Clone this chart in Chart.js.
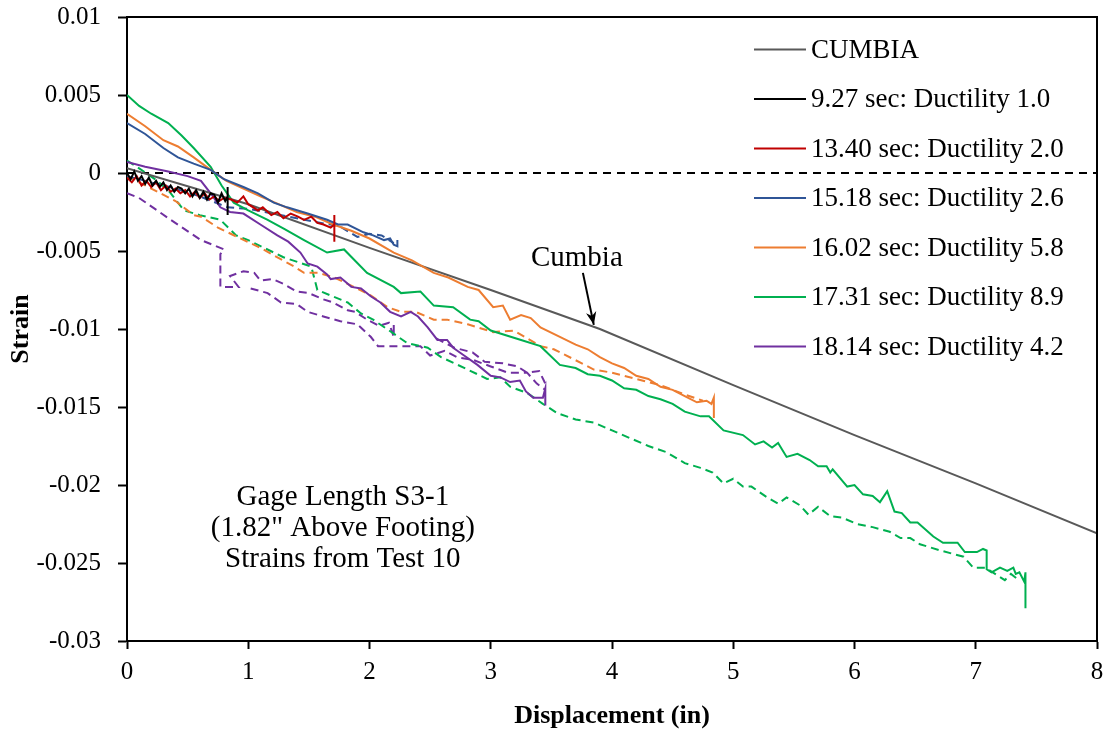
<!DOCTYPE html>
<html>
<head>
<meta charset="utf-8">
<title>Strain vs Displacement - Gage Length S3-1</title>
<script src="https://cdn.jsdelivr.net/npm/chart.js@4.4.1/dist/chart.umd.min.js"></script>
<style>
    html, body { margin: 0; padding: 0; background: #fff; }
    #wrap { width: 1107px; height: 732px; }
</style>
</head>
<body>
<div id="wrap"><canvas id="strainChart" width="1107" height="732"></canvas></div>
<script>
// ---- axis ticks ----
const xTickValues = [0, 1, 2, 3, 4, 5, 6, 7, 8];
const yTickValues = [0.01, 0.005, 0, -0.005, -0.01, -0.015, -0.02, -0.025, -0.03];
const yTickLabels = ['0.01', '0.005', '0', '-0.005', '-0.01', '-0.015', '-0.02', '-0.025', '-0.03'];

// ---- CUMBIA prediction ----
const cumbiaX = [0, 1, 2, 3, 3.9, 5, 6, 7, 8];
const cumbiaY = [0.0003, -0.002, -0.0048, -0.0075, -0.0100, -0.0136, -0.0168, -0.0199, -0.0231];

// ---- zero reference ----
const zeroX = [0, 8];
const zeroY = [0, 0];

// ---- 9.27 sec: Ductility 1.0 ----
const d927X = [0, 0.03, 0.06, 0.09, 0.12, 0.15, 0.18, 0.21, 0.24, 0.27, 0.3, 0.33, 0.36, 0.39, 0.42, 0.45, 0.48, 0.51, 0.54, 0.57, 0.6, 0.63, 0.66, 0.69, 0.72, 0.75, 0.78, 0.81, 0.83, 0.83, 0.83];
const d927Y = [0, -0.0004, 0.0001, -0.0005, -0.0002, -0.0007, -0.0003, -0.0008, -0.0005, -0.0009, -0.0006, -0.0011, -0.0008, -0.0012, -0.0009, -0.0010, -0.0013, -0.0010, -0.0015, -0.0011, -0.0016, -0.0012, -0.0017, -0.0013, -0.0014, -0.0019, -0.0013, -0.0018, -0.0015, -0.0009, -0.0027];

// ---- 13.40 sec: Ductility 2.0 ----
const d1340X = [0, 0.04, 0.08, 0.12, 0.16, 0.2, 0.24, 0.28, 0.32, 0.36, 0.4, 0.44, 0.48, 0.52, 0.56, 0.6, 0.64, 0.68, 0.72, 0.76, 0.8, 0.86, 0.91, 0.96, 1.0, 1.08, 1.12, 1.19, 1.24, 1.29, 1.35, 1.41, 1.46, 1.52, 1.57, 1.62, 1.68, 1.71, 1.71, 1.71];
const d1340Y = [-0.0003, -0.0006, -0.0002, -0.0008, -0.0005, -0.0009, -0.0006, -0.0011, -0.0008, -0.0012, -0.0010, -0.0013, -0.0011, -0.0015, -0.0012, -0.0016, -0.0013, -0.0017, -0.0015, -0.0018, -0.0016, -0.0017, -0.0019, -0.0015, -0.0020, -0.0024, -0.0022, -0.0027, -0.0025, -0.0029, -0.0026, -0.0028, -0.0030, -0.0028, -0.0032, -0.0033, -0.0035, -0.0033, -0.0027, -0.0044];

// ---- 15.18 sec: Ductility 2.6 ----
const d1518X = [0, 0.15, 0.3, 0.42, 0.55, 0.69, 0.8, 0.96, 1.08, 1.21, 1.32, 1.49, 1.65, 1.74, 1.82, 1.95, 2.03, 2.12, 2.17, 2.2, 2.23, 2.23];
const d1518Y = [0.0032, 0.0025, 0.0016, 0.0010, 0.0006, 0.0002, -0.0004, -0.0009, -0.0013, -0.0019, -0.0022, -0.0026, -0.0030, -0.0033, -0.0033, -0.0038, -0.0040, -0.0043, -0.0042, -0.0046, -0.0047, -0.0043];
const d1518DashX = [0, 0.2, 0.4, 0.6, 0.83, 1.0, 1.2, 1.4, 1.6, 1.75, 1.9, 2.0, 2.1, 2.2];
const d1518DashY = [-0.0002, -0.0006, -0.0010, -0.0015, -0.0022, -0.0023, -0.0026, -0.0029, -0.0032, -0.0034, -0.0041, -0.0039, -0.0040, -0.0045];

// ---- 16.02 sec: Ductility 5.8 ----
const d1602X = [0, 0.15, 0.3, 0.42, 0.55, 0.69, 0.82, 0.96, 1.1, 1.25, 1.4, 1.55, 1.7, 1.85, 2.0, 2.2, 2.35, 2.53, 2.65, 2.81, 2.9, 3.02, 3.1, 3.16, 3.25, 3.33, 3.41, 3.57, 3.7, 3.8, 3.9, 4.0, 4.1, 4.2, 4.3, 4.4, 4.5, 4.6, 4.7, 4.78, 4.82, 4.84, 4.84];
const d1602Y = [0.0038, 0.0030, 0.0021, 0.0017, 0.0010, 0.0002, -0.0005, -0.0010, -0.0015, -0.0020, -0.0025, -0.0028, -0.0033, -0.0037, -0.0042, -0.0051, -0.0056, -0.0064, -0.0067, -0.0073, -0.0075, -0.0086, -0.0085, -0.0094, -0.0091, -0.0093, -0.0099, -0.0105, -0.0110, -0.0113, -0.0118, -0.0122, -0.0125, -0.0130, -0.0132, -0.0137, -0.0139, -0.0143, -0.0147, -0.0146, -0.0148, -0.0144, -0.0157];
const d1602DashX = [0, 0.2, 0.4, 0.55, 0.61, 0.75, 0.91, 1.1, 1.38, 1.46, 1.58, 1.71, 1.87, 2.0, 2.15, 2.26, 2.38, 2.53, 2.64, 2.81, 3.02, 3.19, 3.3, 3.41, 3.52, 3.7, 3.85, 4.0, 4.2, 4.4, 4.6, 4.75];
const d1602DashY = [-0.0002, -0.0010, -0.0018, -0.0027, -0.0028, -0.0035, -0.0041, -0.0048, -0.0060, -0.0064, -0.0064, -0.0067, -0.0073, -0.0078, -0.0086, -0.0089, -0.0089, -0.0094, -0.0094, -0.0097, -0.0102, -0.0101, -0.0106, -0.0111, -0.0113, -0.0120, -0.0126, -0.0128, -0.0132, -0.0136, -0.0142, -0.0146];

// ---- 17.31 sec: Ductility 8.9 ----
const d1731X = [0, 0.1, 0.2, 0.34, 0.45, 0.55, 0.69, 0.78, 0.88, 1.0, 1.16, 1.3, 1.46, 1.65, 1.79, 1.98, 2.2, 2.26, 2.42, 2.53, 2.69, 2.83, 2.9, 3.0, 3.25, 3.41, 3.57, 3.7, 3.8, 3.9, 4.0, 4.1, 4.2, 4.3, 4.4, 4.5, 4.6, 4.73, 4.8, 4.92, 5.08, 5.18, 5.25, 5.32, 5.37, 5.44, 5.53, 5.63, 5.7, 5.77, 5.8, 5.82, 5.94, 6.0, 6.07, 6.15, 6.21, 6.27, 6.33, 6.39, 6.46, 6.52, 6.65, 6.73, 6.85, 6.91, 7.01, 7.06, 7.09, 7.09, 7.13, 7.2, 7.26, 7.31, 7.33, 7.36, 7.4, 7.41, 7.41];
const d1731Y = [0.0050, 0.0043, 0.0038, 0.0032, 0.0024, 0.0016, 0.0004, -0.0008, -0.0019, -0.0024, -0.0030, -0.0036, -0.0043, -0.0051, -0.0049, -0.0064, -0.0073, -0.0077, -0.0076, -0.0085, -0.0086, -0.0094, -0.0095, -0.0101, -0.0107, -0.0111, -0.0123, -0.0125, -0.0129, -0.0130, -0.0133, -0.0138, -0.0139, -0.0143, -0.0145, -0.0148, -0.0153, -0.0156, -0.0156, -0.0165, -0.0168, -0.0174, -0.0172, -0.0176, -0.0173, -0.0182, -0.0180, -0.0184, -0.0188, -0.0188, -0.0192, -0.0190, -0.0201, -0.0200, -0.0206, -0.0207, -0.0211, -0.0204, -0.0217, -0.0218, -0.0224, -0.0224, -0.0233, -0.0237, -0.0237, -0.0243, -0.0243, -0.0241, -0.0242, -0.0254, -0.0256, -0.0253, -0.0255, -0.0253, -0.0257, -0.0256, -0.0262, -0.0256, -0.0279];
const d1731DashX = [0, 0.1, 0.25, 0.35, 0.47, 0.6, 0.77, 0.9, 1.0, 1.29, 1.52, 1.57, 1.82, 1.93, 2.03, 2.2, 2.31, 2.48, 2.59, 2.81, 2.97, 3.08, 3.16, 3.3, 3.43, 3.55, 3.7, 3.85, 4.0, 4.15, 4.3, 4.45, 4.6, 4.73, 4.83, 4.92, 5.0, 5.08, 5.15, 5.28, 5.37, 5.44, 5.55, 5.62, 5.7, 5.8, 5.9, 6.02, 6.15, 6.29, 6.38, 6.46, 6.54, 6.71, 6.9, 6.98, 7.08, 7.14, 7.24, 7.29, 7.34];
const d1731DashY = [0.0008, 0.0003, -0.0005, -0.0012, -0.0024, -0.0027, -0.0030, -0.0040, -0.0043, -0.0054, -0.0060, -0.0075, -0.0083, -0.0090, -0.0094, -0.0103, -0.0109, -0.0112, -0.0118, -0.0126, -0.0132, -0.0131, -0.0137, -0.0141, -0.0148, -0.0154, -0.0158, -0.0160, -0.0165, -0.0170, -0.0175, -0.0179, -0.0186, -0.0189, -0.0192, -0.0199, -0.0196, -0.0201, -0.0201, -0.0208, -0.0212, -0.0208, -0.0213, -0.0219, -0.0214, -0.0220, -0.0221, -0.0225, -0.0227, -0.0230, -0.0234, -0.0234, -0.0238, -0.0242, -0.0246, -0.0253, -0.0253, -0.0256, -0.0261, -0.0257, -0.0260];

// ---- 18.14 sec: Ductility 4.2 ----
const d1814X = [0, 0.15, 0.34, 0.5, 0.61, 0.69, 0.77, 0.85, 0.96, 1.1, 1.24, 1.33, 1.43, 1.49, 1.57, 1.65, 1.68, 1.76, 1.85, 1.93, 2.01, 2.09, 2.17, 2.26, 2.34, 2.4, 2.48, 2.56, 2.64, 2.69, 2.78, 2.89, 3.0, 3.08, 3.16, 3.24, 3.29, 3.35, 3.43, 3.45, 3.45];
const d1814Y = [0.0007, 0.0004, 0.0001, -0.0002, -0.0005, -0.0013, -0.0022, -0.0025, -0.0026, -0.0033, -0.0040, -0.0044, -0.0051, -0.0058, -0.0060, -0.0065, -0.0068, -0.0067, -0.0073, -0.0074, -0.0079, -0.0083, -0.0089, -0.0092, -0.0089, -0.0092, -0.0099, -0.0107, -0.0107, -0.0112, -0.0117, -0.0123, -0.0130, -0.0131, -0.0134, -0.0133, -0.0140, -0.0144, -0.0144, -0.0138, -0.0149];
const d1814DashX = [0, 0.1, 0.36, 0.61, 0.8, 0.77, 0.77, 0.77, 0.92, 0.85, 0.96, 1.05, 1.1, 1.2, 1.29, 1.4, 1.5, 1.62, 1.7, 1.82, 1.88, 1.98, 2.08, 2.16, 2.2, 2.2,
    2.2,
    1.02, 1.16, 1.27, 1.4, 1.49, 1.62, 1.76, 1.9, 2.01, 2.07, 2.25, 2.42, 2.5, 2.62, 2.72, 2.86, 3.0, 3.14, 3.3, 3.38, 3.45,
    3.45,
    2.55, 2.7, 2.85, 2.95, 3.1, 3.22, 3.3, 3.4, 3.45];
const d1814DashY = [-0.0013, -0.0016, -0.0030, -0.0043, -0.0049, -0.0052, -0.0062, -0.0073, -0.0073, -0.0066, -0.0063, -0.0064, -0.0069, -0.0068, -0.0071, -0.0076, -0.0077, -0.0081, -0.0083, -0.0088, -0.0089, -0.0094, -0.0098, -0.0096, -0.0105, -0.0097,
    null,
    -0.0074, -0.0077, -0.0083, -0.0084, -0.0089, -0.0092, -0.0095, -0.0097, -0.0105, -0.0111, -0.0111, -0.0111, -0.0117, -0.0114, -0.0118, -0.0120, -0.0124, -0.0128, -0.0128, -0.0135, -0.0139,
    null,
    -0.0106, -0.0112, -0.0115, -0.0121, -0.0122, -0.0124, -0.0128, -0.0127, -0.0135];

// ---- legend ----
const legendLabels = ['CUMBIA', '9.27 sec: Ductility 1.0', '13.40 sec: Ductility 2.0', '15.18 sec: Ductility 2.6', '16.02 sec: Ductility 5.8', '17.31 sec: Ductility 8.9', '18.14 sec: Ductility 4.2'];
const legendColors = ['#595959', '#000000', '#C00000', '#2F5597', '#ED7D31', '#00B050', '#7030A0'];

const noteLines = ['Gage Length S3-1', '(1.82" Above Footing)', 'Strains from Test 10'];

const SERIF = '"Liberation Serif", "Times New Roman", serif';

function pts(xs, ys) {
    return xs.map((x, i) => ({ x: x, y: ys[i] }));
}

function cumbiaAt(x) {
    for (let i = 1; i < cumbiaX.length; i++) {
        if (x <= cumbiaX[i]) {
            const t = (x - cumbiaX[i - 1]) / (cumbiaX[i] - cumbiaX[i - 1]);
            return cumbiaY[i - 1] + t * (cumbiaY[i] - cumbiaY[i - 1]);
        }
    }
    return cumbiaY[cumbiaY.length - 1];
}

function series(data, color, dashed, order) {
    return {
        data: data,
        borderColor: color,
        backgroundColor: color,
        borderWidth: 2,
        borderDash: dashed ? [8, 5] : [],
        showLine: true,
        pointRadius: 0,
        pointHoverRadius: 0,
        spanGaps: false,
        tension: 0,
        order: order
    };
}

// box, legend and notes
const decorPlugin = {
    id: 'decor',
    afterDraw(chart) {
        const ctx = chart.ctx;
        const area = chart.chartArea;
        const xs = chart.scales.x;
        const ys = chart.scales.y;
        ctx.save();

        // top and right frame
        ctx.strokeStyle = '#000';
        ctx.lineWidth = 2;
        ctx.beginPath();
        ctx.moveTo(area.left, area.top);
        ctx.lineTo(area.right, area.top);
        ctx.lineTo(area.right, area.bottom);
        ctx.stroke();

        // legend
        ctx.font = '27px ' + SERIF;
        ctx.textBaseline = 'middle';
        ctx.textAlign = 'left';
        legendLabels.forEach((label, i) => {
            const y = 49.5 + i * 49.5;
            ctx.strokeStyle = legendColors[i];
            ctx.lineWidth = 2;
            ctx.beginPath();
            ctx.moveTo(754, y);
            ctx.lineTo(806, y);
            ctx.stroke();
            ctx.fillStyle = '#000';
            ctx.fillText(label, 811, y + 1);
        });

        // Cumbia label with arrow
        ctx.font = '29px ' + SERIF;
        ctx.textAlign = 'center';
        ctx.fillText('Cumbia', xs.getPixelForValue(3.71), ys.getPixelForValue(-0.0055));
        const tx = xs.getPixelForValue(3.85);
        const ty = ys.getPixelForValue(cumbiaAt(3.85)) - 2;
        const sx = xs.getPixelForValue(3.76);
        const sy = ys.getPixelForValue(-0.0064);
        ctx.strokeStyle = '#000';
        ctx.lineWidth = 2;
        ctx.beginPath();
        ctx.moveTo(sx, sy);
        ctx.lineTo(tx, ty);
        ctx.stroke();
        const ang = Math.atan2(ty - sy, tx - sx);
        ctx.beginPath();
        ctx.moveTo(tx, ty);
        ctx.lineTo(tx - 14 * Math.cos(ang - 0.38), ty - 14 * Math.sin(ang - 0.38));
        ctx.lineTo(tx - 9 * Math.cos(ang), ty - 9 * Math.sin(ang));
        ctx.lineTo(tx - 14 * Math.cos(ang + 0.38), ty - 14 * Math.sin(ang + 0.38));
        ctx.closePath();
        ctx.fillStyle = '#000';
        ctx.fill();

        // gage note
        const nx = xs.getPixelForValue(1.78);
        noteLines.forEach((line, i) => {
            ctx.fillText(line, nx, ys.getPixelForValue(-0.0208 - i * 0.00198));
        });

        ctx.restore();
    }
};

const ctx = document.getElementById('strainChart');

new Chart(ctx, {
    type: 'scatter',
    data: {
        datasets: [
            series(pts(d927X, d927Y), legendColors[1], false, 1),
            series(pts(d1340X, d1340Y), legendColors[2], false, 2),
            series(pts(d1518X, d1518Y), legendColors[3], false, 3),
            series(pts(d1602X, d1602Y), legendColors[4], false, 4),
            series(pts(cumbiaX, cumbiaY), legendColors[0], false, 5),
            series(pts(d1731X, d1731Y), legendColors[5], false, 6),
            series(pts(d1814X, d1814Y), legendColors[6], false, 7),
            series(pts(d1518DashX, d1518DashY), legendColors[3], true, 8),
            series(pts(d1602DashX, d1602DashY), legendColors[4], true, 9),
            series(pts(d1731DashX, d1731DashY), legendColors[5], true, 10),
            series(pts(d1814DashX, d1814DashY), legendColors[6], true, 11),
            Object.assign(series(pts(zeroX, zeroY), '#000000', true, 12), { borderDash: [8, 6] })
        ]
    },
    options: {
        responsive: false,
        animation: false,
        events: [],
        layout: { padding: { top: 17, right: 10, left: 0, bottom: 0 } },
        plugins: {
            legend: { display: false },
            tooltip: { enabled: false }
        },
        scales: {
            x: {
                type: 'linear',
                min: 0,
                max: 8,
                afterBuildTicks: (scale) => { scale.ticks = xTickValues.map(v => ({ value: v })); },
                afterFit: (scale) => {
                    scale.height = 91;
                    scale.paddingLeft = 0;
                    scale.paddingRight = 0;
                },
                border: { color: '#000', width: 2 },
                grid: { drawOnChartArea: false, drawTicks: true, tickLength: 8, tickColor: '#000', tickWidth: 2 },
                ticks: {
                    color: '#000',
                    padding: 8,
                    font: { family: SERIF, size: 25 },
                    callback: (v) => String(v)
                },
                title: {
                    display: true,
                    text: 'Displacement (in)',
                    color: '#000',
                    font: { family: SERIF, size: 26, weight: 'bold' },
                    padding: { top: 0, bottom: 0 }
                }
            },
            y: {
                type: 'linear',
                min: -0.03,
                max: 0.01,
                afterBuildTicks: (scale) => { scale.ticks = yTickValues.map(v => ({ value: v })); },
                afterFit: (scale) => {
                    scale.width = 127;
                    scale.paddingTop = 0;
                    scale.paddingBottom = 0;
                },
                border: { color: '#000', width: 2 },
                grid: { drawOnChartArea: false, drawTicks: true, tickLength: 9, tickColor: '#000', tickWidth: 2 },
                ticks: {
                    color: '#000',
                    padding: 17,
                    font: { family: SERIF, size: 25 },
                    callback: (v) => {
                        const i = yTickValues.findIndex(t => Math.abs(t - v) < 1e-9);
                        return i >= 0 ? yTickLabels[i] : '';
                    }
                },
                title: {
                    display: true,
                    text: 'Strain',
                    color: '#000',
                    font: { family: SERIF, size: 26, weight: 'bold' },
                    padding: { top: 6, bottom: 0 }
                }
            }
        }
    },
    plugins: [decorPlugin]
});
</script>
</body>
</html>
